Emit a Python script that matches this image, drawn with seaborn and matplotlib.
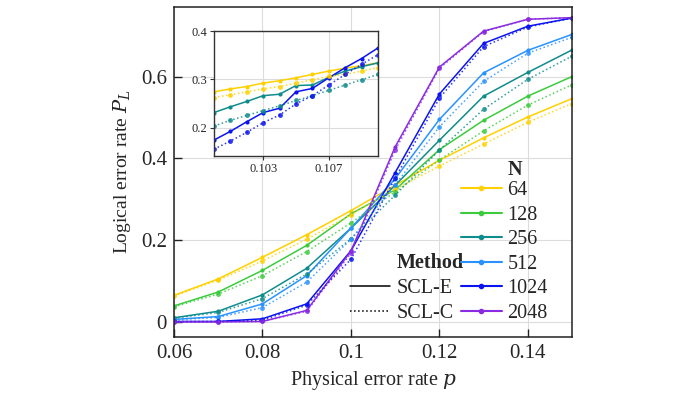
import seaborn as sns
import matplotlib.pyplot as plt
from matplotlib.lines import Line2D
import pandas as pd
import numpy as np

# physical error rates
p = [0.06, 0.07, 0.08, 0.09, 0.10, 0.11, 0.12, 0.13, 0.14, 0.15]
sizes = [64, 128, 256, 512, 1024, 2048]

# SCL-E
e64 = [0.065, 0.105, 0.158, 0.213, 0.272, 0.334, 0.395, 0.450, 0.501, 0.546]
e128 = [0.039, 0.073, 0.126, 0.187, 0.264, 0.323, 0.421, 0.493, 0.552, 0.600]
e256 = [0.010, 0.026, 0.066, 0.131, 0.229, 0.334, 0.444, 0.552, 0.610, 0.665]
e512 = [0.006, 0.013, 0.044, 0.113, 0.229, 0.350, 0.495, 0.609, 0.664, 0.703]
e1024 = [0.001, 0.001, 0.0075, 0.044, 0.174, 0.365, 0.557, 0.681, 0.723, 0.743]
e2048 = [0.0, 0.0, 0.001, 0.028, 0.173, 0.428, 0.623, 0.711, 0.740, 0.744]

# SCL-C
c64 = [0.063, 0.102, 0.149, 0.202, 0.262, 0.324, 0.381, 0.435, 0.488, 0.534]
c128 = [0.037, 0.068, 0.113, 0.172, 0.242, 0.318, 0.396, 0.467, 0.530, 0.580]
c256 = [0.009, 0.023, 0.057, 0.117, 0.203, 0.310, 0.420, 0.520, 0.593, 0.650]
c512 = [0.005, 0.011, 0.035, 0.097, 0.202, 0.335, 0.477, 0.588, 0.657, 0.696]
c1024 = [0.001, 0.001, 0.004, 0.041, 0.153, 0.351, 0.547, 0.673, 0.721, 0.743]
c2048 = [0.0, 0.0, 0.001, 0.026, 0.168, 0.420, 0.620, 0.710, 0.740, 0.744]

# zoomed region (inset)
p_zoom = [0.100, 0.101, 0.102, 0.103, 0.104, 0.105, 0.106, 0.107, 0.108, 0.109, 0.110]
zsizes = [64, 256, 1024]
ze64 = [0.274, 0.280, 0.285, 0.292, 0.297, 0.303, 0.310, 0.317, 0.323, 0.328, 0.334]
zc64 = [0.262, 0.268, 0.274, 0.280, 0.285, 0.292, 0.299, 0.306, 0.310, 0.317, 0.324]
ze256 = [0.231, 0.243, 0.254, 0.266, 0.269, 0.287, 0.288, 0.304, 0.317, 0.326, 0.334]
zc256 = [0.203, 0.215, 0.225, 0.235, 0.245, 0.256, 0.266, 0.277, 0.288, 0.299, 0.310]
ze1024 = [0.174, 0.192, 0.212, 0.231, 0.240, 0.274, 0.281, 0.303, 0.324, 0.343, 0.365]
zc1024 = [0.155, 0.172, 0.190, 0.210, 0.226, 0.249, 0.266, 0.288, 0.310, 0.331, 0.351]

colors = {64: "#FFD000", 128: "#3CCB3C", 256: "#0F8C8C", 512: "#2A92FF",
          1024: "#0A14F0", 2048: "#8A2BE2"}

E = dict(zip(sizes, [e64, e128, e256, e512, e1024, e2048]))
C = dict(zip(sizes, [c64, c128, c256, c512, c1024, c2048]))
ZE = dict(zip(zsizes, [ze64, ze256, ze1024]))
ZC = dict(zip(zsizes, [zc64, zc256, zc1024]))


def long_df(x, table, method):
    rows = []
    for n, vals in table.items():
        for xi, yi in zip(x, vals):
            rows.append({"p": xi, "PL": yi, "N": n, "Method": method})
    return pd.DataFrame(rows)


df_e = long_df(p, E, "SCL-E")
df_c = long_df(p, C, "SCL-C")
dz_e = long_df(p_zoom, ZE, "SCL-E")
dz_c = long_df(p_zoom, ZC, "SCL-C")

sns.set_style("whitegrid", {"grid.color": "#dcdcdc", "axes.edgecolor": "#222222"})
plt.rcParams["font.family"] = ["Liberation Serif", "DejaVu Serif"]
plt.rcParams["mathtext.fontset"] = "dejavuserif"

fig = plt.figure(figsize=(7, 4.19), dpi=100)
ax = fig.add_axes([0.2486, 0.1957, 0.5686, 0.7876])

sns.lineplot(data=df_e, x="p", y="PL", hue="N", palette=colors, marker="o",
             markersize=3, markeredgewidth=0, linewidth=1.1, legend=False, ax=ax)
sns.lineplot(data=df_c, x="p", y="PL", hue="N", palette=colors, marker="o",
             markersize=3.5, markeredgewidth=0, linewidth=1.1, linestyle=":",
             alpha=0.85, legend=False, ax=ax)

ax.set_xlim(0.06, 0.15)
ax.set_ylim(-0.037, 0.77)
ax.set_xticks([0.06, 0.08, 0.10, 0.12, 0.14])
ax.set_xticklabels(["0.06", "0.08", "0.1", "0.12", "0.14"])
ax.set_yticks([0, 0.2, 0.4, 0.6])
ax.set_yticklabels(["0", "0.2", "0.4", "0.6"])
ax.tick_params(direction="in", length=6, width=1, labelsize=15, color="#222222",
               left=True, bottom=True, pad=5)
ax.set_xlabel("Physical error rate $p$", fontsize=14.5, labelpad=4)
ax.set_ylabel("Logical error rate $P_L$", fontsize=14, labelpad=6)
for s in ax.spines.values():
    s.set_linewidth(1.1)

# legends (titles drawn as text, left-aligned with the labels)
n_handles = [Line2D([], [], color=colors[n], marker="o", markersize=3, lw=1.5) for n in sizes]
leg_n = ax.legend(n_handles, [str(n) for n in sizes], loc="lower right",
                  bbox_to_anchor=(0.985, -0.012), frameon=False, fontsize=14.5,
                  handlelength=2.0, handletextpad=0.3, labelspacing=0.27)
ax.add_artist(leg_n)
ax.text(0.837, 0.505, "N", transform=ax.transAxes, fontsize=14.5,
        fontweight="bold", ha="left", va="center")

m_handles = [Line2D([], [], color="black", lw=1.1),
             Line2D([], [], color="black", lw=1.1, linestyle=":")]
ax.legend(m_handles, ["SCL-E", "SCL-C"], loc="lower right",
          bbox_to_anchor=(0.748, -0.012), frameon=False, fontsize=14.5,
          handlelength=2.0, handletextpad=0.3, labelspacing=0.27)
ax.text(0.560, 0.224, "Method", transform=ax.transAxes, fontsize=14.5,
        fontweight="bold", ha="left", va="center")

# inset
ins = fig.add_axes([0.3057, 0.6277, 0.2343, 0.2983])
sns.lineplot(data=dz_e, x="p", y="PL", hue="N", palette=colors, marker="o",
             markersize=3, markeredgewidth=0, linewidth=1.1, legend=False, ax=ins)
sns.lineplot(data=dz_c, x="p", y="PL", hue="N", palette=colors, marker="o",
             markersize=3.5, markeredgewidth=0, linewidth=1.1, linestyle=":",
             alpha=0.85, legend=False, ax=ins)
ins.set_xlim(0.100, 0.110)
ins.set_ylim(0.141, 0.40)
ins.set_xticks([0.103, 0.107])
ins.set_xticklabels(["0.103", "0.107"])
ins.set_yticks([0.2, 0.3, 0.4])
ins.set_yticklabels(["0.2", "0.3", "0.4"])
ins.tick_params(direction="out", length=3, width=0.8, labelsize=9, pad=2,
                left=True, bottom=True, color="#333333")
ins.set_xlabel("")
ins.set_ylabel("")
for s in ins.spines.values():
    s.set_linewidth(1.0)
    s.set_color("#333333")

fig.savefig("out.png", dpi=100)
